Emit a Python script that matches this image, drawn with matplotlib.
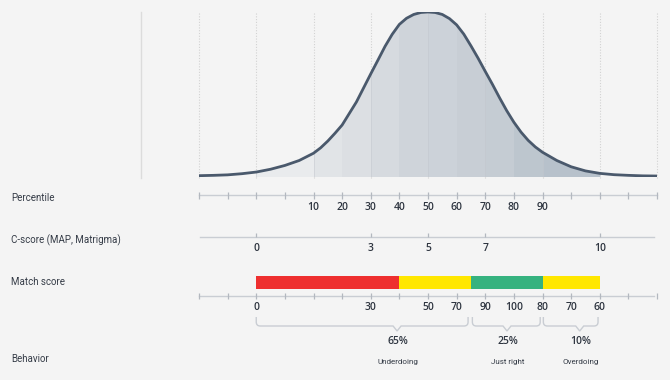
import matplotlib.pyplot as plt
import numpy as np
from matplotlib.path import Path
from matplotlib.patches import PathPatch

plt.rcParams['font.family'] = ['Roboto', 'DejaVu Sans']
num_font = ['Open Sans', 'DejaVu Sans']

# bell curve (x = tick index, h = relative height)
curve_x = [0, 0.5, 1, 1.5, 2, 2.5, 3, 3.5, 4, 4.25, 4.5, 4.75, 5, 5.25, 5.5, 5.75,
           6, 6.25, 6.5, 6.75, 7, 7.25, 7.5, 7.75, 8, 8.25, 8.5, 8.75, 9, 9.25, 9.5, 9.75,
           10, 10.25, 10.5, 10.75, 11, 11.25, 11.5, 11.75, 12, 12.5, 13, 13.5, 14, 14.5,
           15, 15.5, 16]
curve_h = [0.008, 0.010, 0.013, 0.020, 0.030, 0.047, 0.070, 0.100, 0.144, 0.177, 0.218,
           0.265, 0.315, 0.385, 0.455, 0.540, 0.625, 0.708, 0.792, 0.865, 0.925, 0.962,
           0.985, 0.997, 1.0, 0.997, 0.985, 0.960, 0.922, 0.866, 0.795, 0.720, 0.640,
           0.562, 0.480, 0.402, 0.332, 0.272, 0.222, 0.182, 0.150, 0.100, 0.062, 0.037,
           0.022, 0.014, 0.010, 0.007, 0.006]
band_edges = [2, 4, 5, 6, 7, 8, 9, 10, 11, 12, 14, 16]
band_colors = ['#e9ebed', '#e1e4e7', '#dcdfe3', '#d6dadf', '#cfd4da', '#ccd2d9',
               '#c8ced5', '#c5ccd3', '#bdc6ce', '#b7c1cb']

pct_ticks = list(range(17))
pct_label_pos = [4, 5, 6, 7, 8, 9, 10, 11, 12]
pct_labels = ['10', '20', '30', '40', '50', '60', '70', '80', '90']

c_label_pos = [2, 6, 8, 10, 14]
c_labels = ['0', '3', '5', '7', '10']

match_label_pos = [2, 6, 8, 9, 10, 11, 12, 13, 14]
match_labels = ['0', '30', '50', '70', '90', '100', '80', '70', '60']
bar_starts = [2, 7, 9.5, 12]
bar_ends = [7, 9.5, 12, 14]
bar_colors = ['#ee2f2f', '#ffe700', '#35b27f', '#ffe700']

behavior_shares = ['65%', '25%', '10%']
behavior_names = ['Underdoing', 'Just right', 'Overdoing']
brace_spans = [(2, 9.4, 6.92), (9.55, 11.92, 10.76), (12.03, 13.94, 13.3)]

row_labels = ['Percentile', 'C-score (MAP, Matrigma)', 'Match score', 'Behavior']
row_y = [198, 240, 282, 359]

bg = '#f4f4f4'
grey = '#c9cdd3'
txt = '#353c47'
numc = '#2e3540'
W, H = 670, 380
px = 458 / 16  # pixels per tick step

fig = plt.figure(figsize=(6.7, 3.8), dpi=100, facecolor=bg)
ax = fig.add_axes([0, 0, 1, 1])
ax.set_xlim(-199 / px, (W - 199) / px)
ax.set_ylim(H, 0)
ax.axis('off')

# curve panel
axc = fig.add_axes([199 / W, 1 - 177 / H, 458 / W, 165 / H])
axc.set_xlim(0, 16)
axc.set_ylim(0, 1)
axc.axis('off')
for gx in range(0, 17, 2):
    axc.plot([gx, gx], [-0.006, 1.0], color='#d2d2d2', lw=0.8, ls=(0, (1, 1.5)),
             zorder=1, clip_on=False)
poly = axc.fill_between(curve_x, curve_h, 0, color='none', lw=0)
for i, c in enumerate(band_colors):
    sp = axc.axvspan(band_edges[i], band_edges[i + 1], color=c, lw=0, zorder=2)
    sp.set_clip_path(poly.get_paths()[0], axc.transData)
for gx in range(2, 16, 2):
    ln, = axc.plot([gx, gx], [0, 1], color='#c4c8ce', lw=0.6, alpha=0.6, zorder=3)
    ln.set_clip_path(poly.get_paths()[0], axc.transData)
axc.plot(curve_x, curve_h, color='#4a596c', lw=2, zorder=4,
         solid_capstyle='round', solid_joinstyle='round')

# divider line on the left
ax.plot([-58 / px, -58 / px], [12, 178], color='#dcdcdc', lw=1)

# row labels
for lab, y in zip(row_labels, row_y):
    ax.text(-188 / px, y, lab, fontsize=7, color=txt, va='center', ha='left')

# percentile axis
ax.plot([0, 16], [195, 195], color=grey, lw=1)
ax.vlines(pct_ticks, 192, 198.5, color='#b3b8bf', lw=0.9)
for xp, lab in zip(pct_label_pos, pct_labels):
    ax.text(xp, 207.5, lab, fontsize=7.5, fontweight='semibold', color=numc,
            ha='center', va='center', family=num_font)

# C-score axis
ax.plot([0.05, 15.9], [237, 237], color=grey, lw=1)
ax.vlines(c_label_pos, 233, 237, color='#b3b8bf', lw=0.9)
for xp, lab in zip(c_label_pos, c_labels):
    ax.text(xp, 248.5, lab, fontsize=7.5, fontweight='semibold', color=numc,
            ha='center', va='center', family=num_font)

# match score bar and axis
ax.barh(282.5, np.array(bar_ends) - np.array(bar_starts), left=bar_starts, height=13,
        color=bar_colors, lw=0)
ax.plot([0, 15.9], [295.5, 295.5], color=grey, lw=1)
ax.vlines(pct_ticks, 292.5, 299, color='#b3b8bf', lw=0.9)
for xp, lab in zip(match_label_pos, match_labels):
    ax.text(xp, 307.5, lab, fontsize=7.5, fontweight='semibold', color=numc,
            ha='center', va='center', family=num_font)

# braces
r = 4 / px
for (xa, xb, xt), share, name in zip(brace_spans, behavior_shares, behavior_names):
    verts = [(xa, 317), (xa, 322), (xa, 326), (xa + r, 326), (xt - r, 326), (xt, 331),
             (xt + r, 326), (xb - r, 326), (xb, 326), (xb, 322), (xb, 317)]
    codes = [Path.MOVETO, Path.LINETO, Path.CURVE3, Path.CURVE3, Path.LINETO, Path.LINETO,
             Path.LINETO, Path.LINETO, Path.CURVE3, Path.CURVE3, Path.LINETO]
    ax.add_patch(PathPatch(Path(verts, codes), fill=False, edgecolor=grey, lw=1))
    ax.text(xt + 0.03, 341, share, fontsize=7.5, fontweight='semibold', color=numc,
            ha='center', va='center', family=num_font)
    ax.text(xt + 0.03, 362, name, fontsize=5.8, color=txt, ha='center', va='center')

fig.savefig('out.png', dpi=100, facecolor=bg)
